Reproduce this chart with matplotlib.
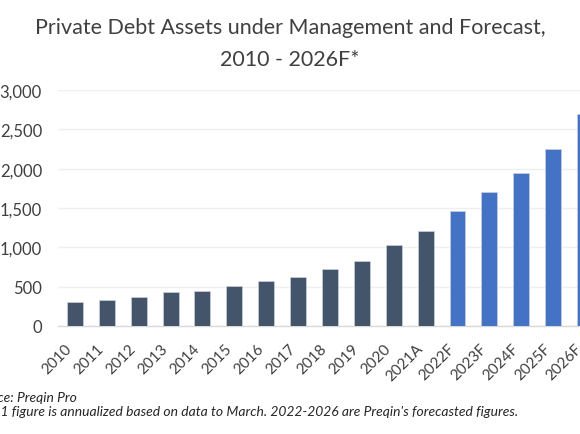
import matplotlib
matplotlib.use('Agg')
import matplotlib.pyplot as plt
from matplotlib import ticker

plt.rcParams['font.family'] = ['Lato', 'DejaVu Sans']

# data
years = ['2010', '2011', '2012', '2013', '2014', '2015', '2016', '2017',
         '2018', '2019', '2020', '2021A', '2022F', '2023F', '2024F', '2025F', '2026F']
aum = [305, 335, 367, 432, 441, 505, 568, 619, 721, 823, 1030, 1205,
       1467, 1709, 1946, 2256, 2697]
forecast = [False] * 12 + [True] * 5
yticks = [0, 500, 1000, 1500, 2000, 2500, 3000]

dark = '#44546A'
blue = '#4472C4'
txt = '#404040'

W, H = 580, 435
fig = plt.figure(figsize=(W / 100, H / 100), dpi=100)

# axes deliberately run past the right edge (reference is cropped)
left, right, top, bottom = 58, 601, 91, 327
ax = fig.add_axes([left / W, 1 - bottom / H, (right - left) / W, (bottom - top) / H])

x = range(len(years))
colors = [blue if f else dark for f in forecast]
ax.bar(x, aum, width=0.5, color=colors, edgecolor='#c8d0dc', linewidth=0.5, zorder=3)

ax.set_xlim(-0.53, 16.5)
ax.set_ylim(0, 3000)
ax.set_yticks(yticks)
ax.yaxis.set_major_formatter(ticker.FuncFormatter(lambda v, p: f'{int(v):,}'))
ax.grid(axis='y', color='#efefef', linewidth=1, zorder=0)
ax.set_axisbelow(True)

for s in ['left', 'right', 'top']:
    ax.spines[s].set_visible(False)
ax.spines['bottom'].set_color('#d9d9d9')
ax.spines['bottom'].set_linewidth(1)

ax.set_xticks(list(x))
ax.set_xticklabels(years, rotation=45, ha='right')
ax.tick_params(axis='x', length=0, pad=11, labelsize=11, labelcolor=txt)
ax.tick_params(axis='y', length=0, pad=11.5, labelsize=12, labelcolor=txt)

fig.text(0.5, 1 - 34 / H, 'Private Debt Assets under Management and Forecast,',
         ha='center', va='baseline', fontsize=15.5, color=txt)
fig.text(0.5, 1 - 66 / H, '2010 - 2026F*',
         ha='center', va='baseline', fontsize=15.5, color=txt)

# footnotes, start clipped by the left edge like the reference
fig.text(-29 / W, 1 - 402 / H, 'Source: Preqin Pro', ha='left', va='baseline',
         fontsize=10, style='italic', color='#262626')
fig.text(-29 / W, 1 - 416 / H,
         "*2021 figure is annualized based on data to March. 2022-2026 are Preqin's forecasted figures.",
         ha='left', va='baseline', fontsize=10, style='italic', color='#262626')

fig.savefig('out.png', dpi=100)
